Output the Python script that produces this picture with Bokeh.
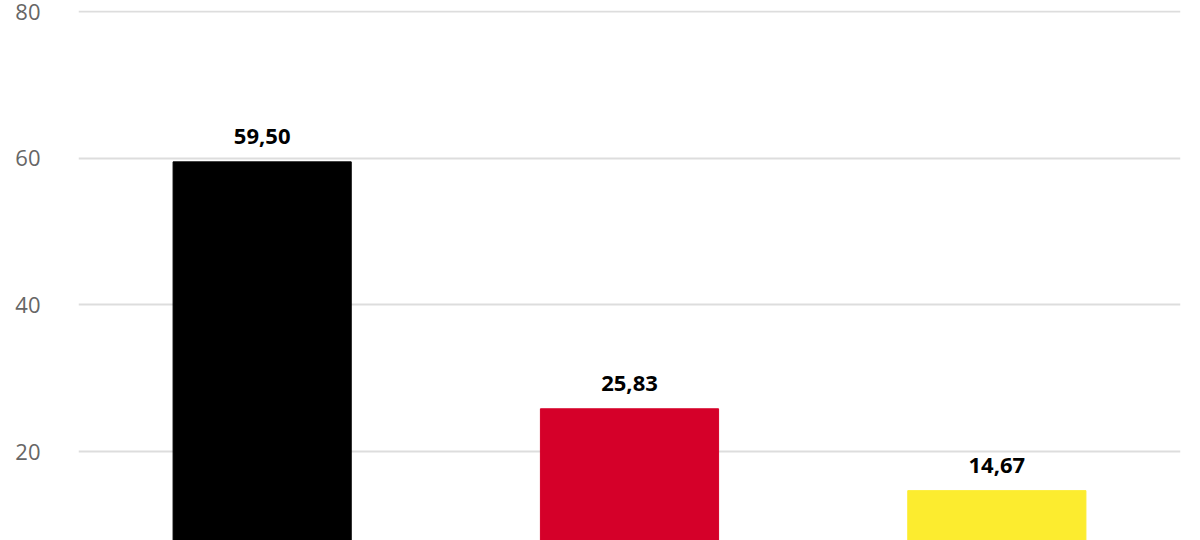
from bokeh.plotting import figure
from bokeh.models import ColumnDataSource, FixedTicker, Range1d, FactorRange
from bokeh.embed import file_html
from bokeh.resources import INLINE
from bokeh.core.properties import value

categories = ["Schwarz", "Rot", "Gold"]
values = [59.50, 25.83, 14.67]
colors = ["#000000", "#D50029", "#FCEC2F"]
y_ticks = [20, 40, 60, 80]

labels = [f"{v:.2f}".replace(".", ",") for v in values]
src = ColumnDataSource(dict(cat=categories, val=values, color=colors, label=labels))

p = figure(x_range=FactorRange(*categories), y_range=Range1d(7.87, 80.14),
           width=1200, height=540, output_backend="svg", toolbar_location=None,
           min_border_left=78, min_border_right=20, min_border_top=10, min_border_bottom=0)
p.outline_line_color = None
p.background_fill_color = "white"

p.vbar(x="cat", top="val", bottom=0, width=0.485, color="color", source=src)
p.text(x="cat", y="val", text="label", source=src, text_align="center",
       text_baseline="alphabetic", y_offset=-25, text_font=value("Open Sans"),
       text_font_style="bold", text_font_size="22px", text_color="#000000")

p.xaxis.visible = False
p.xgrid.grid_line_color = None
p.yaxis.ticker = FixedTicker(ticks=y_ticks)
p.yaxis.axis_line_color = None
p.yaxis.major_tick_line_color = None
p.yaxis.minor_tick_line_color = None
p.yaxis.major_label_standoff = 32
p.yaxis.major_label_text_font = "Open Sans"
p.yaxis.major_label_text_font_size = "22px"
p.yaxis.major_label_text_color = "#666666"
p.ygrid.ticker = FixedTicker(ticks=y_ticks)
p.ygrid.grid_line_color = "#dddddd"
p.ygrid.grid_line_width = 2

open("out.html", "w").write(file_html(p, INLINE))
